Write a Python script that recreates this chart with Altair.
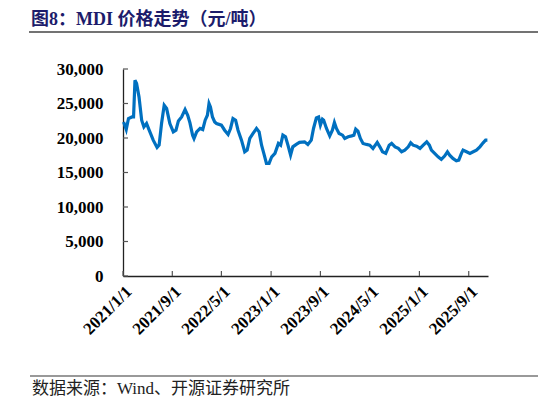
import altair as alt
import pandas as pd

# MDI price (yuan/ton)
dates = [
    "2021-01-04", "2021-01-17", "2021-01-28", "2021-02-14", "2021-02-22", "2021-03-01",
    "2021-03-09", "2021-03-21", "2021-04-03", "2021-04-14", "2021-04-27", "2021-05-10",
    "2021-05-30", "2021-06-18", "2021-06-28", "2021-07-10", "2021-07-23", "2021-08-04",
    "2021-08-20", "2021-09-06", "2021-09-19", "2021-10-01", "2021-10-17", "2021-11-03",
    "2021-11-16", "2021-11-27", "2021-12-10", "2021-12-17", "2021-12-30", "2022-01-16",
    "2022-01-29", "2022-02-10", "2022-02-21", "2022-03-01", "2022-03-08", "2022-03-18",
    "2022-03-29", "2022-04-07", "2022-05-01", "2022-05-17", "2022-06-03", "2022-06-15",
    "2022-06-27", "2022-07-10", "2022-07-22", "2022-08-08", "2022-08-24", "2022-09-05",
    "2022-09-18", "2022-10-04", "2022-10-21", "2022-11-03", "2022-11-15", "2022-11-26",
    "2022-12-09", "2022-12-22", "2023-01-04", "2023-01-20", "2023-02-06", "2023-02-17",
    "2023-02-28", "2023-03-13", "2023-03-25", "2023-04-07", "2023-04-18", "2023-05-05",
    "2023-05-21", "2023-06-15", "2023-07-01", "2023-07-18", "2023-07-29", "2023-08-12",
    "2023-08-23", "2023-09-01", "2023-09-11", "2023-09-17", "2023-10-01", "2023-10-17",
    "2023-10-30", "2023-11-09", "2023-11-19", "2023-12-02", "2023-12-19", "2023-12-30",
    "2024-01-16", "2024-02-02", "2024-02-13", "2024-02-22", "2024-03-04", "2024-03-16",
    "2024-03-29", "2024-04-15", "2024-05-01", "2024-05-17", "2024-06-07", "2024-06-20",
    "2024-07-03", "2024-07-19", "2024-08-05", "2024-08-17", "2024-09-03", "2024-09-19",
    "2024-10-05", "2024-10-21", "2024-11-07", "2024-11-19", "2024-12-01", "2024-12-18",
    "2025-01-04", "2025-01-20", "2025-02-06", "2025-02-19", "2025-03-01", "2025-03-17",
    "2025-04-03", "2025-04-19", "2025-05-05", "2025-05-19", "2025-05-30", "2025-06-15",
    "2025-07-02", "2025-07-14", "2025-07-27", "2025-08-04", "2025-08-21", "2025-09-07",
    "2025-09-23", "2025-10-09", "2025-10-26", "2025-11-11", "2025-11-23", "2025-12-02",
]
prices = [
    22330, 21230, 22820, 23050, 23050, 28360,
    27880, 25940, 22580, 21610, 22100, 21130,
    19690, 18630, 18960, 22100, 24740, 24270,
    22100, 20890, 21130, 22480, 23050, 24120,
    23300, 22190, 20410, 19930, 20890, 21380,
    21230, 22580, 23300, 24990, 24500, 23050,
    22330, 22100, 21860, 21130, 20510, 21380,
    22820, 22580, 21130, 19690, 18000, 18240,
    19930, 20660, 21380, 20890, 18960, 17770,
    16320, 16320, 17280, 17770, 19210, 18960,
    20410, 20170, 18960, 17520, 18720, 19070,
    19360, 19440, 19070, 19690, 21380, 22910,
    23050, 21860, 22720, 22580, 21380, 20310,
    21130, 22240, 21380, 20660, 20410, 19930,
    20170, 20310, 20410, 21280, 20990, 19930,
    19210, 19070, 18960, 18490, 19360, 18720,
    18000, 17770, 18960, 19210, 18720, 18490,
    18000, 18240, 18720, 19300, 18960, 18820,
    18490, 18960, 19440, 18960, 18240, 17770,
    17280, 16900, 17380, 18000, 17520, 17040,
    16700, 16800, 17770, 18240, 18000, 17770,
    18000, 18240, 18720, 19300, 19690, 19690,
]
x_ticks = ["2021-01-01", "2021-09-01", "2022-05-01", "2023-01-01",
           "2023-09-01", "2024-05-01", "2025-01-01", "2025-09-01"]
y_ticks = [0, 5000, 10000, 15000, 20000, 25000, 30000]

title_txt = "图8：MDI 价格走势（元/吨）"
source_txt = "数据来源：Wind、开源证券研究所"

W = 365
H = 207
serif = "Liberation Serif, Noto Sans CJK SC"

df = pd.DataFrame({"date": dates, "price": prices})
xt = pd.DataFrame({"date": x_ticks})
yt = pd.DataFrame({"price": y_ticks})

def dt(s):
    y, m, d = [int(v) for v in s.split("-")]
    return alt.DateTime(year=y, month=m, date=d, utc=True)

xscale = alt.Scale(type="utc", domain=[dt("2021-01-01"), dt("2025-12-05")])
yscale = alt.Scale(domain=[0, 30000])

#same axis objects in every layer so the merge keeps them
xaxis = alt.Axis(values=[dt(s) for s in x_ticks],
                 labelExpr="utcFormat(datum.value, '%Y/%-m/%-d')",
                 labelAngle=315, labelAlign="right", labelBaseline="top",
                 labelPadding=7, tickSize=0, grid=False,
                 labelOverlap=False, labelFlush=False)
yaxis = alt.Axis(values=y_ticks, format=",d", tickSize=0, grid=False,
                 labelPadding=20, labelOverlap=False, labelFlush=False)

#main line
line = alt.Chart(df).mark_line(color="#0070C0", strokeWidth=3.2).encode(
    x=alt.X("date:T", scale=xscale, title=None, axis=xaxis),
    y=alt.Y("price:Q", scale=yscale, title=None, axis=yaxis),
)

#inward tick marks
xtick = alt.Chart(xt).mark_rule(color="#555555", strokeWidth=1.2).encode(
    x=alt.X("date:T", scale=xscale, title=None, axis=xaxis),
    y=alt.value(H), y2=alt.value(H - 5))
ytick = alt.Chart(yt).mark_rule(color="#555555", strokeWidth=1.2).encode(
    y=alt.Y("price:Q", scale=yscale, title=None, axis=yaxis),
    x=alt.value(0), x2=alt.value(5))

#header, footer and separator lines
one = pd.DataFrame({"t": [title_txt], "s": [source_txt]})
head = alt.Chart(one).mark_text(
    align="left", baseline="alphabetic", font=serif, fontSize=18,
    fontWeight="bold", color="#1C1C6B").encode(
    text="t:N", x=alt.value(-92), y=alt.value(-44))
foot = alt.Chart(one).mark_text(
    align="left", baseline="alphabetic", font=serif, fontSize=17,
    color="#222222").encode(
    text="s:N", x=alt.value(-91), y=alt.value(325))
top_rule = alt.Chart(one).mark_rule(color="#444444", strokeWidth=1.5).encode(
    x=alt.value(-94), x2=alt.value(415), y=alt.value(-37))
bot_rule = alt.Chart(one).mark_rule(color="#777777", strokeWidth=1.5).encode(
    x=alt.value(-93), x2=alt.value(415), y=alt.value(307))

chart = alt.layer(line, xtick, ytick, head, foot, top_rule, bot_rule).properties(
    width=W, height=H,
    autosize=alt.AutoSizeParams(type="none"),
    padding={"left": 115, "top": 61, "right": 50, "bottom": 128},
).configure_view(stroke=None).configure_axis(
    domainColor="#222222", domainWidth=1.3,
    labelFont="Liberation Serif", labelFontSize=17, labelFontWeight="bold",
    labelColor="#000000",
)

chart.save("out.html", embed_options={"renderer": "svg", "actions": False})
